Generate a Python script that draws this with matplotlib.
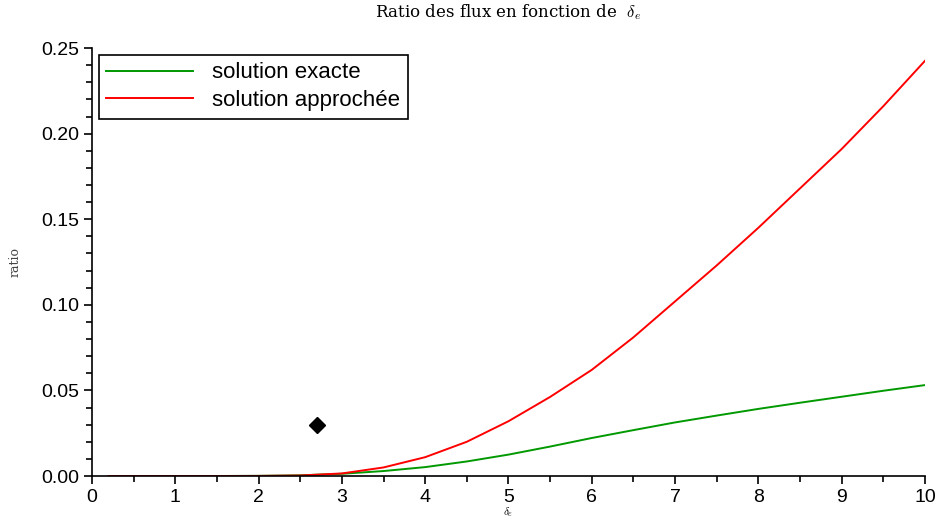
import matplotlib
matplotlib.use('Agg')
import matplotlib.pyplot as plt
from matplotlib.ticker import MultipleLocator, FormatStrFormatter

# Donnees
delta = [0.2, 0.5, 1.0, 1.5, 2.0, 2.5, 3.0, 3.5, 4.0, 4.5, 5.0,
         5.5, 6.0, 6.5, 7.0, 7.5, 8.0, 8.5, 9.0, 9.5, 10.0]
exacte = [0.0, 0.0, 0.0, 0.0, 0.0001, 0.0004, 0.0013, 0.0029, 0.0052, 0.0085, 0.0125,
          0.0172, 0.0222, 0.0268, 0.0313, 0.0353, 0.0392, 0.0428, 0.0463, 0.0498, 0.0531]
approchee = [0.0, 0.0, 0.0, 0.0, 0.00005, 0.0003, 0.0015, 0.0050, 0.0110, 0.0200, 0.0320,
             0.0462, 0.0620, 0.0810, 0.1020, 0.1230, 0.1450, 0.1680, 0.1910, 0.2160, 0.2425]
point_x = [2.7]
point_y = [0.03]

plt.rcParams['mathtext.fontset'] = 'cm'
plt.rcParams['font.family'] = ['Liberation Sans', 'DejaVu Sans']
fig = plt.figure(figsize=(9.39, 5.2), dpi=100)
ax = fig.add_axes([0.098, 0.0846, 0.887, 0.823])

ax.plot(delta, exacte, color='#009900', lw=1.4, label='solution exacte')
ax.plot(delta, approchee, color='#ff0000', lw=1.4, label='solution approchée')
ax.plot(point_x, point_y, marker='D', color='black', ms=8, ls='none')

ax.set_xlim(0, 10)
ax.set_ylim(0, 0.25)
ax.xaxis.set_major_locator(MultipleLocator(1))
ax.xaxis.set_minor_locator(MultipleLocator(0.5))
ax.yaxis.set_major_locator(MultipleLocator(0.05))
ax.yaxis.set_minor_locator(MultipleLocator(0.01))
ax.yaxis.set_major_formatter(FormatStrFormatter('%.2f'))
for s in ['top', 'right']:
    ax.spines[s].set_visible(False)
ax.spines['left'].set_linewidth(1.2)
ax.spines['bottom'].set_linewidth(1.2)
ax.tick_params(which='major', length=6, width=1.2, labelsize=14, direction='out')
ax.tick_params(which='minor', length=4, width=1.2, direction='out')

ax.set_title(r'Ratio des flux en fonction de  $\delta_e$', fontsize=12,
             family='serif', math_fontfamily='cm', pad=22)
ax.set_xlabel(r'$\delta_e$', fontsize=8, labelpad=-1)
ax.set_ylabel('ratio', fontsize=9, family='serif', color='#444444', labelpad=14)

leg = ax.legend(loc='upper left', fontsize=16, frameon=True, fancybox=False,
                edgecolor='black', framealpha=1, handlelength=3.9, handletextpad=0.85,
                labelspacing=0.3, borderaxespad=0.3, borderpad=0.35)
leg.get_frame().set_linewidth(1.2)

fig.savefig('out.png', dpi=100)
